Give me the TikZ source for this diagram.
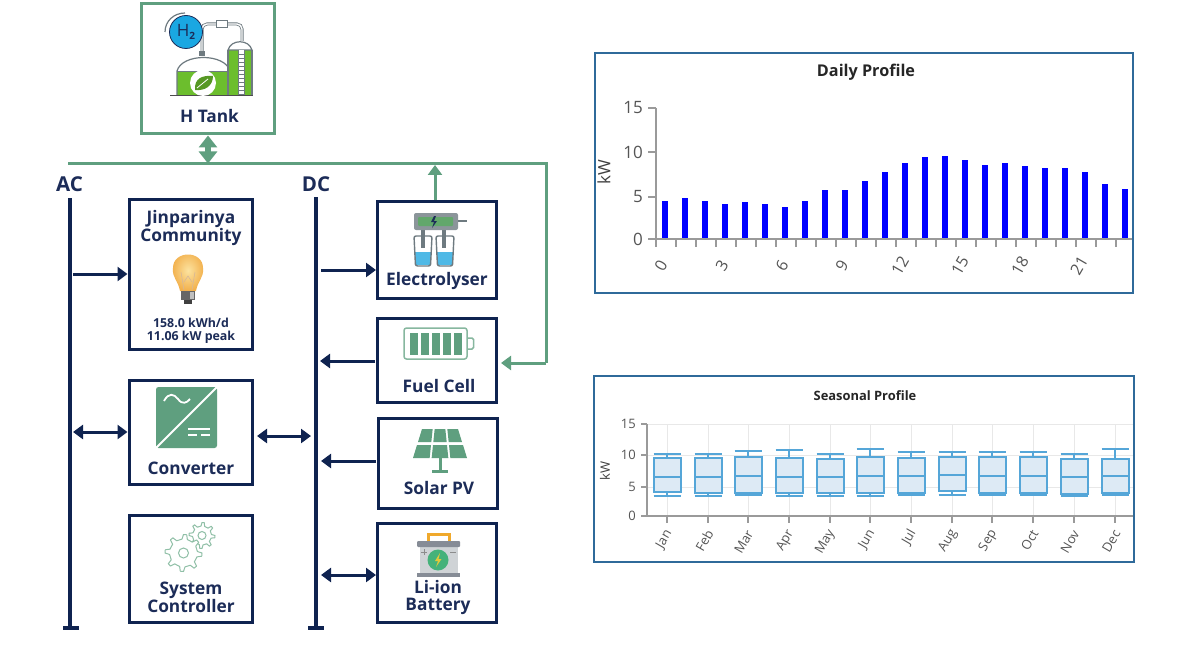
\documentclass[tikz,border=0pt]{standalone}
\usepackage{fontspec}
\setmainfont{Open Sans}
\usetikzlibrary{arrows.meta,shadings}
\definecolor{navy}{HTML}{0F2350}
\definecolor{navytxt}{HTML}{1C2C58}
\definecolor{grn}{HTML}{5F9F7F}
\definecolor{leaf}{HTML}{6CBE2D}
\definecolor{frameblue}{HTML}{2F6A9A}
\definecolor{boxline}{HTML}{55A6D8}
\definecolor{boxfill}{HTML}{DDEAF5}
\definecolor{axisgray}{HTML}{9A9A9A}
\definecolor{ticktxt}{HTML}{555555}
\definecolor{iconline}{HTML}{6E7A80}
\definecolor{water}{HTML}{4FB9E6}
\definecolor{softgrn}{HTML}{8FBFA6}
\definecolor{htwo}{HTML}{1AA7E2}
\definecolor{battbar}{HTML}{868C96}
\definecolor{battbody}{HTML}{CFD3D6}
\definecolor{battcirc}{HTML}{45B27A}
\definecolor{battbolt}{HTML}{E2C93A}
\definecolor{batthandle}{HTML}{F0A92C}
\definecolor{bulbout}{HTML}{F2B04C}
\definecolor{bulbin}{HTML}{FCE3A0}
\tikzset{
  x=1pt,y=-1pt,
  navybox/.style={draw=navy,line width=3pt,fill=white,inner sep=0pt},
  greenbox/.style={draw=grn,line width=3pt,fill=white,inner sep=0pt},
  lbl/.style={font=\fontsize{17.3}{17}\selectfont\bfseries,text=navytxt,align=center,inner sep=0pt},
  buslbl/.style={font=\fontsize{20.5}{20}\selectfont\bfseries,text=navytxt,inner sep=0pt},
  smalllbl/.style={font=\fontsize{12.4}{12.6}\selectfont\bfseries,text=navytxt,align=center,inner sep=0pt},
  busline/.style={draw=navy,line width=4pt},
  navyarr/.style={draw=navy,line width=3pt,-{Triangle[length=10pt,width=14pt]}},
  navydbl/.style={draw=navy,line width=3pt,{Triangle[length=10pt,width=14pt]}-{Triangle[length=10pt,width=14pt]}},
  grnline/.style={draw=grn,line width=3pt},
  grnarr/.style={draw=grn,line width=3pt,-{Triangle[length=10pt,width=14pt]}},
  frame/.style={draw=frameblue,line width=2pt,fill=white,inner sep=0pt},
  axisline/.style={draw=axisgray,line width=1.5pt},
  ticklbl/.style={font=\fontsize{17}{17}\selectfont,text=ticktxt,inner sep=0pt},
  ticklbs/.style={font=\fontsize{13}{13}\selectfont,text=ticktxt,inner sep=0pt},
  bar/.style={fill=blue,draw=none},
  wbox/.style={draw=boxline,line width=2pt,fill=boxfill},
  whisk/.style={draw=boxline,line width=2pt},
  gridl/.style={draw=black!9,line width=1pt},
}
\newcommand{\gearicon}[5]{% cx cy rout rin hole
  \draw[softgrn,line width=1pt,line join=round,fill=white]
   ({#1+#3},{#2}) \foreach \k in {0,1,...,7}{
     -- ({#1+#3*cos(45*\k+10)},{#2+#3*sin(45*\k+10)})
     -- ({#1+#4*cos(45*\k+16)},{#2+#4*sin(45*\k+16)})
     -- ({#1+#4*cos(45*\k+39)},{#2+#4*sin(45*\k+39)})
     -- ({#1+#3*cos(45*\k+45)},{#2+#3*sin(45*\k+45)})
   } -- cycle;
  \draw[softgrn,line width=1pt] (#1,#2) circle[radius=#5];
}
\begin{document}
\begin{tikzpicture}
\useasboundingbox[fill=white] (0,0) rectangle (1200,650);

% ---- green hydrogen line
\coordinate (gstart) at (68,163.5);
\coordinate (gcorner) at (546,163.5);
\coordinate (gdown) at (546,363);
\coordinate (gjoin) at (435,165);
\coordinate (gdbl) at (208,163.5);
\draw[grnline] (gstart) -- (gcorner) -- (gdown);

% ---- boxes
\node[greenbox,minimum width=133pt,minimum height=130pt] (tank) at (208,69) {};
\node[navybox,minimum width=123pt,minimum height=150pt] (comm) at (190.5,274) {};
\node[navybox,minimum width=123pt,minimum height=104pt] (conv) at (190.5,432.5) {};
\node[navybox,minimum width=123pt,minimum height=107pt] (ctrl) at (190.5,568.5) {};
\node[navybox,minimum width=119pt,minimum height=97pt] (elec) at (437,249.5) {};
\node[navybox,minimum width=119pt,minimum height=84pt] (fuel) at (437,360) {};
\node[navybox,minimum width=119pt,minimum height=90pt] (solar) at (437.5,463) {};
\node[navybox,minimum width=119pt,minimum height=99pt] (batt) at (437,572.5) {};

% ---- buses
\coordinate (actop) at (70,198);
\coordinate (acbot) at (70,628);
\coordinate (acl) at (63,628);
\coordinate (acr) at (79,628);
\coordinate (dctop) at (316,197);
\coordinate (dcbot) at (316,628);
\coordinate (dcl) at (308,628);
\coordinate (dcr) at (324,628);
\draw[busline] (actop) -- (acbot);
\draw[busline] (acl) -- (acr);
\draw[busline] (dctop) -- (dcbot);
\draw[busline] (dcl) -- (dcr);
\node[buslbl] (aclbl) at (69.5,184) {AC};
\node[buslbl] (dclbl) at (316,184) {DC};

% ---- connectors
\coordinate (a1) at (73,274);
\coordinate (a2) at (73,432);
\coordinate (d0) at (257,436);
\coordinate (d0r) at (311,436);
\coordinate (d1) at (321,270);
\coordinate (d2) at (320,361);
\coordinate (d3) at (321,461);
\coordinate (d4) at (321,575);
\coordinate (f2) at (375,361);
\coordinate (s2) at (376,461);
\draw[navyarr] (a1) -- (comm.west |- a1);
\draw[navydbl] (a2) -- (conv.west |- a2);
\draw[navydbl] (d0) -- (d0r);
\draw[navyarr] (d1) -- (elec.west |- d1);
\draw[navyarr] (f2) -- (d2);
\draw[navyarr] (s2) -- (d3);
\draw[navydbl] (d4) -- (batt.west |- d4);
\draw[grnarr] (elec.north -| gjoin) -- (gjoin);
\coordinate (farr) at (501,363);
\draw[grnarr] (gdown) -- (farr);
\draw[grn,line width=6pt,{Triangle[length=12pt,width=18pt]}-{Triangle[length=12pt,width=18pt]}] (tank.south -| gdbl) -- (gdbl);

% ---- labels
\node[lbl] (l1) at (209.5,116) {H Tank};
\node[lbl] (l2) at (191,228) {Jinparinya\\Community};
\node[smalllbl] (l3) at (191,331) {158.0 kWh/d\\11.06 kW peak};
\node[lbl] (l4) at (191,468) {Converter};
\node[lbl] (l5) at (191,597) {System\\Controller};
\node[lbl] (l6) at (437,281) {Electrolyser};
\node[lbl] (l7) at (439,386) {Fuel Cell};
\node[lbl] (l8) at (439,488) {Solar PV};
\node[lbl] (l9) at (438,598) {Li-ion\\Battery};

% ---- H tank icon
\fill[leaf] (177,71) -- (230,71) -- (230,96) -- (177,96) -- cycle;
\draw[iconline,line width=1.2pt] (177,96) -- (177,71) .. controls (182,53) and (225,53) .. (230,71) -- (230,96);
\draw[iconline,line width=.8pt] (177,71) -- (230,71);
\fill[leaf] (228,50) rectangle (252,96);
\draw[iconline,line width=1.2pt,fill=white] (228,50) .. controls (231,39) and (249,39) .. (252,50) -- cycle;
\draw[iconline,line width=1.2pt] (228,50) -- (228,96) (252,50) -- (252,96);
\fill[white] (238,50) rectangle (244,96);
\foreach \ry in {54,58,...,94} \draw[iconline,line width=.7pt] (238,\ry) -- (244,\ry);
\draw[iconline,line width=.8pt] (238,50) -- (238,96) (244,50) -- (244,96);
\draw[black!70,line width=1pt] (170,96) -- (253,96);
\fill[white] (203,83) circle[radius=13];
\fill[leaf!80!black] (195,90) .. controls (194,78) and (203,75) .. (213,76) .. controls (213,86) and (205,91) .. (195,90) -- cycle;
\draw[white,line width=.8pt] (197,88) -- (208,79);
\draw[iconline,line width=3pt,rounded corners=5pt] (202,53) -- (202,24) -- (242,24) -- (242,41);
\draw[white,line width=1.4pt,rounded corners=5pt] (202,53) -- (202,24) -- (242,24) -- (242,41);
\draw[iconline,fill=white,line width=1pt] (216,20.5) rectangle (227,27.5);
\fill[iconline] (199,51) rectangle (205,56);
\draw[iconline,line width=1.2pt] (165,32) .. controls (165,21) and (174,13) .. (185,13);
\draw[navytxt,line width=.8pt,fill=htwo] (186,32) circle[radius=16.5];
\node[inner sep=0pt,font=\fontsize{17}{17}\selectfont,text=navytxt] (h2) at (186,32) {H\raisebox{-3pt}{\fontsize{10}{10}\selectfont\bfseries 2}};

% ---- bulb
\shade[inner color=bulbin,outer color=bulbout]
  (180,291) .. controls (178,280) and (172,278) .. (173,268)
  .. controls (173,250) and (203,250) .. (203,268)
  .. controls (204,278) and (198,280) .. (196,291) -- cycle;
\draw[orange!60!black!40,line width=.6pt] (184,290) -- (181,272) (192,290) -- (195,272) (184,282) -- (188,276) -- (192,282);
\fill[black!60] (181,291) rectangle (195,300);
\fill[black!25] (190,292) rectangle (194,299);
\fill[black!75] (184,300) rectangle (192,304);

% ---- converter icon
\fill[grn,rounded corners=2.5pt] (156,387) rectangle (217,448);
\draw[white,line width=2pt] (155,449) -- (218,386);
\draw[white,line width=1.8pt] (164,401) .. controls (169,392) and (174,394) .. (178,399) .. controls (182,405) and (187,403) .. (190,399);
\draw[white,line width=2pt] (188,429) -- (210,429);
\draw[white,line width=2pt] (188,435) -- (197,435) (201,435) -- (210,435);

% ---- gears
\gearicon{202}{535.5}{13}{9.5}{4}
\gearicon{183.5}{553}{18.5}{14}{5}

% ---- electrolyser icon
\fill[water] (415,252) rectangle (431,265);
\fill[water] (437,252) rectangle (453,265);
\draw[iconline,line width=1.4pt,rounded corners=2pt] (414,236) -- (415.5,266) -- (430.5,266) -- (432,236) -- cycle;
\draw[iconline,line width=1.4pt,rounded corners=2pt] (436,236) -- (437.5,266) -- (452.5,266) -- (454,236) -- cycle;
\draw[iconline,line width=3.5pt] (423,229) -- (423,248);
\draw[iconline,line width=3.5pt] (444,229) -- (444,248);
\fill[iconline!80,rounded corners=2pt] (414,213) rectangle (458,230);
\fill[grn!75!leaf,rounded corners=1pt] (418,217) rectangle (453,226);
\fill[navytxt] (434,216) -- (431,222) -- (434,222) -- (432,228) -- (437,221) -- (434,221) -- (436,216) -- cycle;
\draw[iconline,line width=1.5pt] (458,221) -- (467,221);

% ---- fuel cell icon (battery outline)
\draw[grn!75,line width=1.5pt,rounded corners=2.5pt] (404,328) rectangle (467,359);
\draw[grn!75,line width=1.5pt,rounded corners=1.5pt] (467,338) -- (473.5,338) -- (473.5,349) -- (467,349);
\foreach \bx in {409.5,421,432,443,454} \fill[grn] (\bx,333) rectangle ++(8,22);

% ---- solar icon
\foreach \i/\j/\wt/\wb/\yt/\yb in {0/0/38/46/429/442,1/0/38/46/429/442,2/0/38/46/429/442,0/1/48/56/445/458,1/1/48/56/445/458,2/1/48/56/445/458}{
  \fill[grn] ({440+(\i-1.5)*\wt/3+1},\yt) -- ({440+(\i-0.5)*\wt/3-1},\yt) -- ({440+(\i-0.5)*\wb/3-1},\yb) -- ({440+(\i-1.5)*\wb/3+1},\yb) -- cycle;
}
\fill[grn] (439,458) rectangle (441.5,470);
\fill[grn] (432,470) rectangle (448,472.5);

% ---- Li-ion battery icon
\draw[batthandle,line width=3pt] (428,542) -- (428,534) -- (449.5,534) -- (449.5,542);
\fill[battbody] (420,546) rectangle (458,573);
\fill[battbar,rounded corners=1pt] (417,541) rectangle (460,547);
\fill[battbar] (417,573) rectangle (460,576.5);
\fill[battcirc] (438,560) circle[radius=10.5];
\fill[battbolt] (440,553) -- (435,561) -- (438,561) -- (436,567) -- (441.5,559) -- (438.5,559) -- cycle;
\draw[black!45,line width=1pt] (421,552) -- (427,552) (424,549) -- (424,555) (450,552) -- (456,552);

% ---- daily chart
\node[frame,minimum width=538pt,minimum height=240pt] (dframe) at (864,173) {};
\node[inner sep=0pt,font=\fontsize{16.2}{16}\selectfont\bfseries,text=black!85] (dtitle) at (866,72) {Daily Profile};
\coordinate (dorigin) at (656,239);
\coordinate (dtop) at (656,108);
\coordinate (dright) at (1132,239);
\foreach \bi/\by in {0/200.7,1/197.7,2/200.7,3/203.7,4/202.3,5/203.7,6/206.7,7/200.7,8/190.3,9/190.3,10/181.3,11/172.3,12/163.3,13/157.3,14/155.7,15/160.3,16/164.7,17/163.3,18/166.3,19/167.7,20/167.7,21/172.3,22/184.3,23/188.7}
  \fill[bar] ({662+20*\bi},\by) rectangle ({668+20*\bi},239);
\draw[axisline] (dtop) -- (dorigin) -- (dright);
\foreach \v/\yy in {15/108,10/152,5/197,0/239}{
  \draw[axisline] (648,\yy) -- (656,\yy);
  \node[ticklbl,anchor=east] (dy\v) at (643,\yy) {\v};
}
\foreach \ti in {0,1,...,23}
  \draw[axisline] ({656+20*\ti},239) -- ({656+20*\ti},247);
\foreach \t/\tx in {0/661,3/722,6/782,9/842,12/900,15/960,18/1020,21/1079}
  \node[ticklbl,rotate=60,font=\fontsize{16}{16}\selectfont] (dx\t) at (\tx,266) {\t};
\node[ticklbl,rotate=90,font=\fontsize{17}{17}\selectfont,text=black!75] (dkw) at (604,172) {kW};

% ---- seasonal chart
\node[frame,minimum width=540pt,minimum height=186pt] (sframe) at (864,469) {};
\node[inner sep=0pt,font=\fontsize{12.9}{13}\selectfont\bfseries,text=black!85] (stitle) at (865,396) {Seasonal Profile};
\foreach \yy in {424,455,487} \draw[gridl] (647,\yy) -- (1133,\yy);
\foreach \mx/\mname/\wt/\qt/\med/\qb/\wb in {
 667/Jan/252/265/321/367/377, 708/Feb/252/265/321/370/377, 748/Mar/244/262/318/369/375,
 789/Apr/240/265/321/370/377, 830/May/252/268/321/370/377, 870/Jun/238/262/318/370/377,
 911/Jul/247/265/319/370/375, 952/Aug/247/262/316/364/375, 992/Sep/247/262/319/370/375,
 1033/Oct/247/262/319/370/375, 1074/Nov/252/268/321/372/377, 1115/Dec/238/266/319/368/375}{
  \draw[gridl] (\mx,424) -- (\mx,516);
  \draw[axisline,line width=1.2pt] (\mx,516) -- (\mx,523);
  \pgfmathsetmacro{\ywt}{370+\wt/3}
  \pgfmathsetmacro{\yqt}{370+\qt/3}
  \pgfmathsetmacro{\ymd}{370+\med/3}
  \pgfmathsetmacro{\yqb}{370+\qb/3}
  \pgfmathsetmacro{\ywb}{370+\wb/3}
  \draw[whisk] (\mx,\ywt) -- (\mx,\ywb);
  \draw[whisk] ({\mx-13.5},\ywt) -- ({\mx+13.5},\ywt);
  \draw[whisk] ({\mx-13.5},\ywb) -- ({\mx+13.5},\ywb);
  \draw[wbox] ({\mx-13.5},\yqt) rectangle ({\mx+13.5},\yqb);
  \draw[whisk] ({\mx-13.5},\ymd) -- ({\mx+13.5},\ymd);
  \node[ticklbs,rotate=60,anchor=east] (sx\mname) at ({\mx+2},531) {\mname};
}
\draw[axisline,line width=1.6pt] (647,424) -- (647,516) -- (1133,516);
\foreach \v/\yy in {15/424,10/455,5/487,0/516}{
  \draw[axisline,line width=1.2pt] (641,\yy) -- (647,\yy);
  \node[ticklbs,anchor=east] (sy\v) at (636,\yy) {\v};
}
\node[ticklbs,rotate=90,text=black!75] (skw) at (605,471) {kW};
\end{tikzpicture}
\end{document}
